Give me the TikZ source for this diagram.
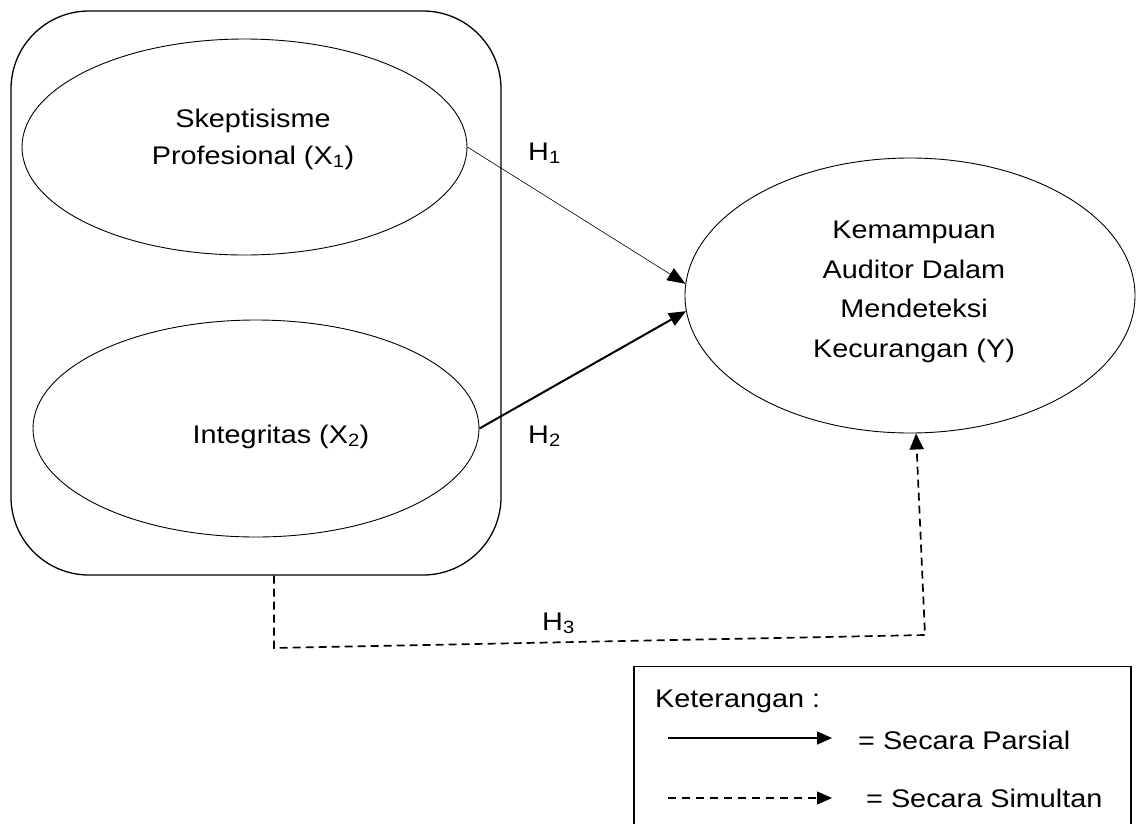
\documentclass[tikz,border=0pt]{standalone}
\usepackage{fontspec}
\setmainfont[FakeStretch=1.13]{Liberation Sans}
\usetikzlibrary{shapes.geometric,arrows.meta}
\begin{document}
\begin{tikzpicture}[x=1pt,y=-1pt,
  ell/.style={draw, ellipse, inner sep=0pt, line width=0.9pt},
  grp/.style={draw, rectangle, rounded corners=78pt, inner sep=0pt, line width=1.3pt},
  txt/.style={inner sep=0pt, align=center, font=\fontsize{25.5}{37}\selectfont},
  ytxt/.style={inner sep=0pt, align=center, font=\fontsize{25.5}{39.5}\selectfont},
  hl/.style={inner sep=0pt, anchor=base west, font=\fontsize{25.5}{30}\selectfont},
  thinarr/.style={line width=0.6pt, -{Triangle[length=18pt,width=14pt]}},
  thickarr/.style={line width=2pt, -{Triangle[length=17pt,width=14pt]}},
  dasharr/.style={line width=1.7pt, dash pattern=on 8pt off 5pt, -{Triangle[length=16pt,width=14pt]}},
  legbox/.style={draw, rectangle, inner sep=0pt, line width=1.2pt},
  legsolid/.style={line width=1.6pt, -{Triangle[length=15pt,width=13pt]}},
  legdash/.style={line width=1.1pt, dash pattern=on 8pt off 6pt, -{Triangle[length=15pt,width=13pt]}}
]
\useasboundingbox (0,0) rectangle (1136,823);

% group box
\node[grp, minimum width=490pt, minimum height=564pt] (grp) at (256,293) {};

% ellipses
\node[ell, minimum width=445pt, minimum height=216pt] (x1) at (244.5,147) {};
\node[ell, minimum width=446pt, minimum height=217pt] (x2) at (256,428.5) {};
\node[ell, minimum width=450pt, minimum height=275pt] (y) at (910,295.5) {};

% texts
\node[txt] (x1t) at (253,139) {Skeptisisme\\Profesional (X\textsubscript{1})};
\node[txt, anchor=base] (x2t) at (281,443) {Integritas (X\textsubscript{2})};
\node[ytxt] (yt) at (914,292) {Kemampuan\\Auditor Dalam\\Mendeteksi\\Kecurangan (Y)};

% hypothesis labels
\node[hl] (h1) at (528,160) {H\textsubscript{1}};
\node[hl] (h2) at (528,443) {H\textsubscript{2}};
\node[hl] (h3) at (542,630) {H\textsubscript{3}};

% connectors
\draw[thinarr] (x1.east) -- (y.177);
\draw[thickarr] (x2.east) -- (y.184);
\coordinate (d0) at ([xshift=18pt]grp.south);
\coordinate (d1) at (274,648);
\coordinate (d2) at (925,635);
\coordinate (d3) at ([xshift=6pt]y.south);
\draw[dasharr] (d0) -- (d1) -- (d2) -- (d3);

% legend
\node[legbox, minimum width=497pt, minimum height=159pt] (leg) at (882.5,746) {};
\node[hl] (ket) at (655,707) {Keterangan :};
\coordinate (ls0) at (668,738);
\coordinate (ls1) at (832,738);
\draw[legsolid] (ls0) -- (ls1);
\node[hl] (lp) at (858,749) {= Secara Parsial};
\coordinate (ld0) at (668,798);
\coordinate (ld1) at (832,798);
\draw[legdash] (ld0) -- (ld1);
\node[hl] (lsim) at (866,807) {= Secara Simultan};
\end{tikzpicture}
\end{document}
